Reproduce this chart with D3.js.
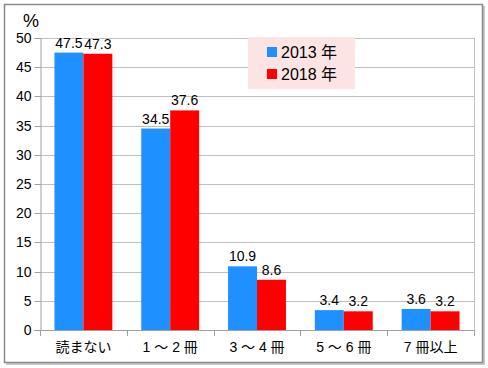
<!DOCTYPE html>
<html>
<head>
<meta charset="utf-8">
<script src="https://cdn.jsdelivr.net/npm/d3@7"></script>
<style>
  body { margin: 0; background: #fff; }
  text { font-family: "Liberation Sans", Arial, "Noto Sans CJK JP", sans-serif; fill: #000; }
</style>
</head>
<body>
<div id="chart"></div>
<script>
const categories = ["読まない", "1～2冊", "3～4冊", "5～6冊", "7冊以上"];
const labels = ["読まない", "1 ～ 2 冊", "3 ～ 4 冊", "5 ～ 6 冊", "7 冊以上"];
const series2013 = [47.5, 34.5, 10.9, 3.4, 3.6];
const series2018 = [47.3, 37.6, 8.6, 3.2, 3.2];
const seriesNames = ["2013 年", "2018 年"];
const colors = ["#1e90ff", "#ff0000"];
const yTicks = [0, 5, 10, 15, 20, 25, 30, 35, 40, 45, 50];

const W = 488, H = 368;
const margin = { top: 38, right: 14, bottom: 38, left: 40 };

const svg = d3.select("#chart").append("svg")
  .attr("width", W).attr("height", H);

// outer frame with soft shadow
svg.append("rect").attr("x", 6).attr("y", 6).attr("width", 479).attr("height", 359)
  .attr("fill", "#c8c8c8");
svg.append("rect").attr("x", 4.5).attr("y", 4.5).attr("width", 478).attr("height", 358)
  .attr("fill", "#fff").attr("stroke", "#8a8a8a").attr("stroke-width", 1.5);

const x0 = d3.scaleBand().domain(categories)
  .range([margin.left, W - margin.right]).paddingInner(0.333).paddingOuter(0.1667);
const x1 = d3.scaleBand().domain([0, 1]).range([0, x0.bandwidth()]);
const y = d3.scaleLinear().domain([0, 50]).range([H - margin.bottom, margin.top]);

// gridlines
svg.append("g").selectAll("line").data(yTicks.filter(d => d > 0)).enter().append("line")
  .attr("x1", margin.left).attr("x2", W - margin.right)
  .attr("y1", d => Math.round(y(d)) + 0.5).attr("y2", d => Math.round(y(d)) + 0.5)
  .attr("stroke", "#c0c0c0");
// right border of plot
svg.append("line")
  .attr("x1", W - margin.right + 0.5).attr("x2", W - margin.right + 0.5)
  .attr("y1", y(50)).attr("y2", y(0))
  .attr("stroke", "#c0c0c0");

// y axis
const yAxis = d3.axisLeft(y).tickValues(yTicks).tickSize(6).tickPadding(3);
const gy = svg.append("g").attr("transform", `translate(${margin.left + 0.5},0)`).call(yAxis);
gy.select(".domain").attr("stroke", "#a0a0a0");
gy.selectAll(".tick line").attr("stroke", "#a0a0a0");
gy.selectAll(".tick text").style("font-size", "14px");
gy.selectAll(".tick").attr("transform", d => `translate(0,${Math.round(y(d)) + 0.5})`);

// x axis
const xLine = svg.append("g");
xLine.append("line")
  .attr("x1", margin.left).attr("x2", W - margin.right)
  .attr("y1", y(0) + 0.5).attr("y2", y(0) + 0.5)
  .attr("stroke", "#a0a0a0");
const bounds = categories.map(c => x0(c) - x0.step() * x0.paddingInner() / 2);
bounds.push(W - margin.right);
xLine.selectAll("line.tk").data(bounds).enter().append("line")
  .attr("class", "tk")
  .attr("x1", d => Math.round(d) + 0.5).attr("x2", d => Math.round(d) + 0.5)
  .attr("y1", y(0)).attr("y2", y(0) + 6)
  .attr("stroke", "#a0a0a0");
xLine.selectAll("text").data(categories).enter().append("text")
  .attr("x", d => x0(d) + x0.bandwidth() / 2)
  .attr("y", y(0) + 22)
  .attr("text-anchor", "middle")
  .style("font-size", "14px")
  .text((d, i) => labels[i]);

// bars
const data = categories.map((c, i) => ({ c, v: [series2013[i], series2018[i]] }));
const groups = svg.append("g").selectAll("g").data(data).enter().append("g")
  .attr("transform", d => `translate(${x0(d.c)},0)`);
groups.selectAll("rect").data(d => d.v).enter().append("rect")
  .attr("x", (d, i) => x1(i))
  .attr("y", d => y(d))
  .attr("width", x1.bandwidth())
  .attr("height", d => y(0) - y(d))
  .attr("fill", (d, i) => colors[i]);
groups.selectAll("text").data(d => d.v).enter().append("text")
  .attr("x", (d, i) => x1(i) + x1.bandwidth() / 2)
  .attr("y", d => y(d) - 5)
  .attr("text-anchor", "middle")
  .style("font-size", "14px")
  .text(d => d.toFixed(1));

// unit
svg.append("text").attr("x", 31).attr("y", 27).attr("text-anchor", "middle")
  .style("font-size", "18px").text("%");

// legend
const lg = svg.append("g").attr("transform", "translate(248,37)");
lg.append("rect").attr("width", 107).attr("height", 52).attr("fill", "#fde4e4");
seriesNames.forEach((s, i) => {
  lg.append("rect").attr("x", 19).attr("y", 10 + i * 22).attr("width", 10).attr("height", 10)
    .attr("fill", colors[i]);
  lg.append("text").attr("x", 33).attr("y", 21 + i * 22)
    .style("font-size", "16px").text(s);
});
</script>
</body>
</html>
